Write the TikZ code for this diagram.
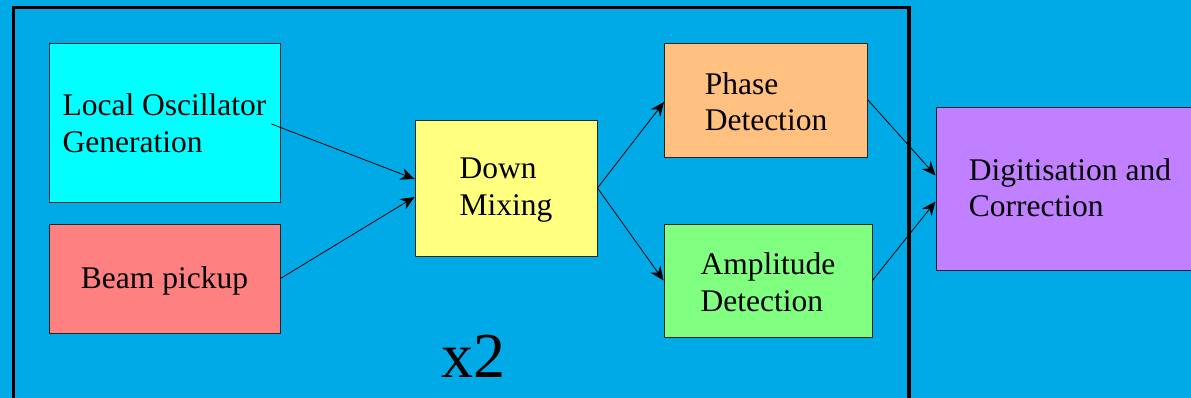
\documentclass[tikz,border=0pt]{standalone}
\usepackage{fontspec}
\setmainfont{Liberation Serif}
\usetikzlibrary{arrows.meta,calc}
\definecolor{bgblue}{RGB}{0,170,230}
\definecolor{locyan}{RGB}{0,255,255}
\definecolor{beamred}{RGB}{255,128,128}
\definecolor{mixyellow}{RGB}{255,255,128}
\definecolor{phaseorange}{RGB}{255,192,128}
\definecolor{ampgreen}{RGB}{128,255,128}
\definecolor{digpurple}{RGB}{192,128,255}
\tikzset{
  blockbox/.style={draw=black!85, line width=0.9pt, inner sep=0pt, align=left,
    text depth=0pt, font=\fontsize{31.5}{36.8}\selectfont},
  flow/.style={-{Stealth[length=14pt,width=12pt,inset=4.5pt]}, line width=0.8pt, black},
  frameline/.style={line width=3.6pt, black}
}
\begin{document}
\begin{tikzpicture}[x=1pt,y=-1pt]
\useasboundingbox (0,0) rectangle (1191,398);
\clip (0,0) rectangle (1191,398);
\fill[bgblue] (0,0) rectangle (1191,398);
\draw[frameline] (13.5,420) -- (13.5,7.5) -- (908.7,7.5) -- (908.7,420);

\node[blockbox, fill=locyan, text height=60.4pt, minimum width=231pt, minimum height=159pt] (lo) at (164.5,122.5) {Local Oscillator\\Generation};
\node[blockbox, fill=beamred, text height=19.6pt, minimum width=231pt, minimum height=109pt] (beam) at (164.5,278.5) {Beam pickup};
\node[blockbox, fill=mixyellow, text height=54pt, minimum width=182pt, minimum height=136pt] (dm) at (506,188) {Down\\Mixing};
\node[blockbox, fill=phaseorange, text height=62pt, minimum width=203pt, minimum height=114pt] (ph) at (766,100) {Phase\\Detection};
\node[blockbox, fill=ampgreen, text height=61pt, minimum width=208pt, minimum height=113pt] (amp) at (768,280.5) {Amplitude\\Detection};
\node[blockbox, fill=digpurple, text height=57pt, minimum width=268pt, minimum height=163pt] (dig) at (1070,188.5) {Digitisation and\\Correction};

\node[anchor=base west, inner sep=0pt, font=\fontsize{64}{70}\selectfont] (x2) at (441,377) {x2};

\draw[flow] ($(lo.east)+(-9,1.5)$) -- ($(dm.west)+(0,-9)$);
\draw[flow] (beam.east) -- ($(dm.west)+(0,9)$);
\draw[flow] (dm.east) -- ($(ph.west)+(0,2)$);
\draw[flow] (dm.east) -- (amp.west);
\draw[flow] (ph.east) -- ($(dig.west)+(0,-13)$);
\draw[flow] (amp.east) -- ($(dig.west)+(0,13)$);
\end{tikzpicture}
\end{document}
